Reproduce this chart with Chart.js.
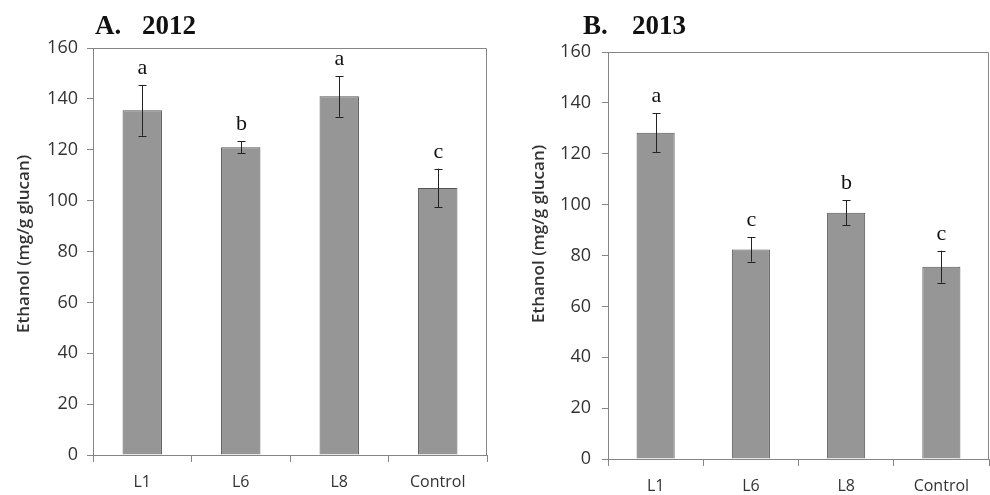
<!DOCTYPE html>
<html>
<head>
<meta charset="utf-8">
<script src="https://cdn.jsdelivr.net/npm/chart.js@4"></script>
<style>
  body { margin: 0; background: #fff; }
  canvas { position: absolute; top: 0; }
  #chartA { left: 0; }
  #chartB { left: 495px; }
</style>
</head>
<body>
<canvas id="chartA" width="495" height="495"></canvas>
<canvas id="chartB" width="495" height="495"></canvas>
<script>
// data
var categories = ["L1", "L6", "L8", "Control"];
var ethanol2012 = [135.5, 121, 141, 105];
var err2012 = [10, 2.4, 8, 7.6];
var letters2012 = ["a", "b", "a", "c"];
var ethanol2013 = [128.3, 82.4, 96.8, 75.6];
var err2013 = [7.7, 4.8, 5, 6.3];
var letters2013 = ["a", "c", "b", "c"];
var yTitle = "Ethanol (mg/g glucan)";

var axisGray = "#868686";
var xFont = { family: "'Open Sans', sans-serif", size: 16 };
var yFont = { family: "'Open Sans', sans-serif", size: 18 };

// error bars, letters, frame and panel title
var extras = {
  id: "extras",
  afterDatasetsDraw: function(chart, args, opts) {
    var ctx = chart.ctx;
    var xs = chart.scales.x, ys = chart.scales.y;
    var area = chart.chartArea;
    ctx.save();

    // box around plot
    ctx.strokeStyle = axisGray;
    ctx.lineWidth = 1;
    ctx.beginPath();
    ctx.moveTo(Math.round(area.left) + 0.5, Math.round(area.top) + 0.5);
    ctx.lineTo(Math.round(area.right) - 0.5, Math.round(area.top) + 0.5);
    ctx.lineTo(Math.round(area.right) - 0.5, Math.round(area.bottom));
    ctx.stroke();

    // error bars
    ctx.strokeStyle = "#222";
    opts.values.forEach(function(v, i) {
      var x = Math.round(xs.getPixelForValue(i)) + 0.5;
      var yt = ys.getPixelForValue(v + opts.errors[i]);
      var yb = ys.getPixelForValue(v - opts.errors[i]);
      ctx.beginPath();
      ctx.moveTo(x, yt); ctx.lineTo(x, yb);
      ctx.moveTo(x - 4, Math.round(yt) + 0.5); ctx.lineTo(x + 4, Math.round(yt) + 0.5);
      ctx.moveTo(x - 4, Math.round(yb) + 0.5); ctx.lineTo(x + 4, Math.round(yb) + 0.5);
      ctx.stroke();

      // significance letter
      ctx.fillStyle = "#111";
      ctx.font = "22px 'Liberation Serif', serif";
      ctx.textAlign = "center";
      ctx.textBaseline = "alphabetic";
      ctx.fillText(opts.letters[i], x, yt - 11);
    });

    // panel title
    ctx.fillStyle = "#111";
    ctx.font = "bold 27px 'Liberation Serif', serif";
    ctx.textAlign = "left";
    ctx.fillText(opts.panel, opts.panelX, 34);
    ctx.fillText(opts.year, opts.yearX, 34);

    // y axis title
    ctx.fillStyle = "#333";
    ctx.font = "600 17px 'Open Sans', sans-serif";
    ctx.translate(opts.titleX, opts.titleY);
    ctx.rotate(-Math.PI / 2);
    ctx.textAlign = "center";
    ctx.textBaseline = "middle";
    ctx.fillText(yTitle, 0, 0);
    ctx.restore();
  }
};

function makeChart(id, values, errors, letters, lay) {
  return new Chart(document.getElementById(id), {
    type: "bar",
    data: {
      labels: categories,
      datasets: [{
        data: values,
        backgroundColor: "#969696",
        borderColor: "#555",
        borderWidth: 1,
        barPercentage: 0.4,
        categoryPercentage: 1
      }]
    },
    options: {
      responsive: false,
      devicePixelRatio: 1,
      animation: false,
      layout: { padding: { top: lay.top, right: lay.right, left: 0, bottom: 0 } },
      scales: {
        x: {
          offset: true,
          grid: { offset: true, drawOnChartArea: false, drawTicks: true, tickLength: 7, color: axisGray },
          border: { color: axisGray },
          ticks: { font: xFont, color: "#333", padding: lay.xPad },
          afterFit: function(s) { s.height = lay.xHeight; }
        },
        y: {
          min: 0,
          max: 160,
          grid: { drawOnChartArea: false, drawTicks: true, tickLength: 6, color: axisGray },
          border: { color: axisGray },
          ticks: { stepSize: 20, font: yFont, color: "#333", padding: lay.yPad },
          afterFit: function(s) { s.width = lay.yWidth; }
        }
      },
      plugins: {
        legend: { display: false },
        tooltip: { enabled: false },
        extras: {
          values: values, errors: errors, letters: letters,
          panel: lay.panel, year: lay.year, panelX: lay.panelX, yearX: lay.yearX,
          titleX: lay.titleX, titleY: lay.titleY
        }
      }
    },
    plugins: [extras]
  });
}

makeChart("chartA", ethanol2012, err2012, letters2012, {
  top: 48, right: 8, xHeight: 40, yWidth: 93, xPad: 11, yPad: 9,
  panel: "A.", year: "2012", panelX: 95, yearX: 142, titleX: 24, titleY: 244
});
makeChart("chartB", ethanol2013, err2013, letters2013, {
  top: 52, right: 1, xHeight: 36, yWidth: 113, xPad: 11, yPad: 11,
  panel: "B.", year: "2013", panelX: 88, yearX: 137, titleX: 44, titleY: 234
});
</script>
</body>
</html>
